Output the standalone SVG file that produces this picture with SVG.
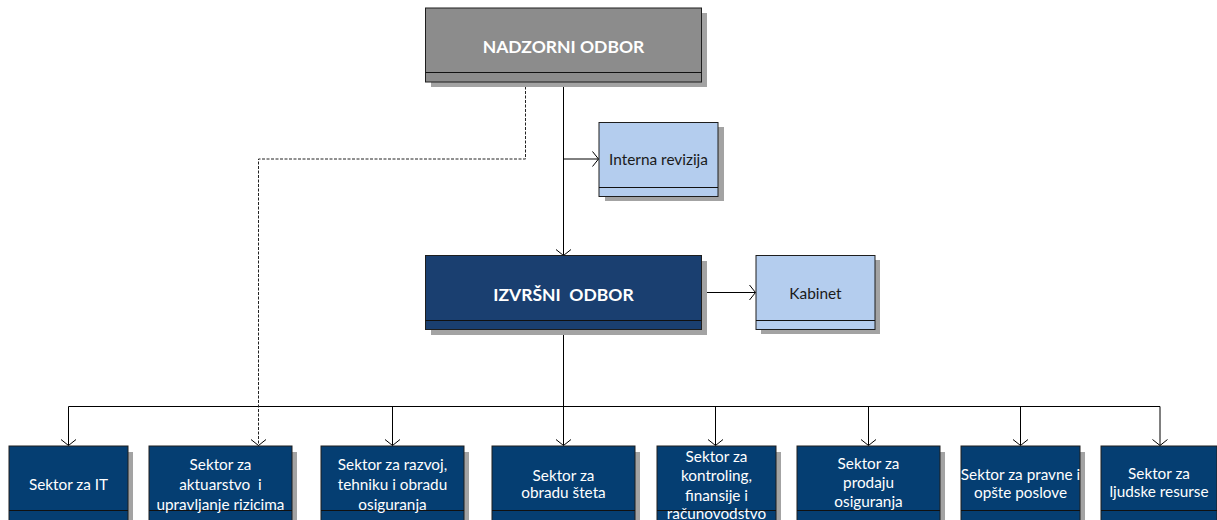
<svg xmlns="http://www.w3.org/2000/svg" width="1217" height="520" viewBox="0 0 1217 520">
<style>
.shadow{fill:#a3a3a3}
.box{stroke:#1e1e1e;stroke-width:1}
.gray{fill:#8c8c8c}
.light{fill:#b4cdee}
.exec{fill:#1a3f70}
.sec{fill:#053e72}
.sep{stroke:#111;stroke-width:1.2;fill:none}
.t{font-family:Lato,"Liberation Sans",sans-serif;text-anchor:middle}
.tw{fill:#ffffff;font-size:15.3px}
.tb{fill:#ffffff;font-size:17.5px;font-weight:bold}
.td{fill:#1a1a1a;font-size:15.4px}
.ln{stroke:#000;stroke-width:1;fill:none}
.dash{stroke:#222;stroke-width:1;fill:none;stroke-dasharray:3 1.5}
</style>
<defs>
<marker id="arr" markerUnits="userSpaceOnUse" markerWidth="16" markerHeight="18" viewBox="-8 -9 16 18" refX="0" refY="0" orient="auto">
<path d="M-6,-7.5 L0,0 L-6,7.5" fill="none" stroke="#000" stroke-width="1"/>
</marker>
</defs>
<rect width="1217" height="520" fill="#ffffff"/>

<g id="connectors">
<path class="ln" d="M563.5,82 V159 H598.5" marker-end="url(#arr)"/>
<path class="ln" d="M563.5,159 V255.5" marker-end="url(#arr)"/>
<path class="ln" d="M702,292.5 H755.5" marker-end="url(#arr)"/>
<path class="ln" d="M563.5,330 V406.5"/>
<path class="ln" d="M68.5,406.5 H1160"/>
<path class="ln" d="M68.5,406.5 V445.5" marker-end="url(#arr)"/>
<path class="ln" d="M392.5,406.5 V445.5" marker-end="url(#arr)"/>
<path class="ln" d="M563.5,406.5 V445.5" marker-end="url(#arr)"/>
<path class="ln" d="M715.5,406.5 V445.5" marker-end="url(#arr)"/>
<path class="ln" d="M868.5,406.5 V445.5" marker-end="url(#arr)"/>
<path class="ln" d="M1020.5,406.5 V445.5" marker-end="url(#arr)"/>
<path class="ln" d="M1160,406.5 V445.5" marker-end="url(#arr)"/>
<path class="dash" d="M525.5,82 V159 H258.5 V445.5" marker-end="url(#arr)"/>
</g>

<g id="nadzorni-odbor">
<rect class="shadow" x="431" y="13" width="276" height="74"/>
<rect class="box gray" x="425.5" y="8" width="276" height="74"/>
<line class="sep" x1="425.5" y1="72.5" x2="701.5" y2="72.5"/>
<text class="t tb" x="563.5" y="52.5">NADZORNI ODBOR</text>
</g>

<g id="interna-revizija">
<rect class="shadow" x="605" y="127" width="119" height="74"/>
<rect class="box light" x="599" y="122.5" width="119" height="74"/>
<line class="sep" x1="599" y1="187.5" x2="718" y2="187.5"/>
<text class="t td" x="658.5" y="165">Interna revizija</text>
</g>

<g id="izvrsni-odbor">
<rect class="shadow" x="431" y="261" width="276" height="74"/>
<rect class="box exec" x="425.5" y="255.5" width="276" height="74"/>
<line class="sep" x1="425.5" y1="320.5" x2="701.5" y2="320.5"/>
<text class="t tb" x="563.5" y="301" xml:space="preserve">IZVRŠNI  ODBOR</text>
</g>

<g id="kabinet">
<rect class="shadow" x="761" y="260" width="119" height="74"/>
<rect class="box light" x="756" y="255.5" width="119" height="74"/>
<line class="sep" x1="756" y1="320.5" x2="875" y2="320.5"/>
<text class="t td" x="815.5" y="298.5">Kabinet</text>
</g>

<g id="sektor-it">
<rect class="shadow" x="14" y="452" width="119" height="80"/>
<rect class="box sec" x="9" y="446" width="119" height="80"/>
<line class="sep" x1="9" y1="510.5" x2="128" y2="510.5"/>
<text class="t tw" x="68.5" y="489.5">Sektor za IT</text>
</g>

<g id="sektor-aktuarstvo">
<rect class="shadow" x="154" y="452" width="143" height="80"/>
<rect class="box sec" x="149" y="446" width="143" height="80"/>
<line class="sep" x1="149" y1="510.5" x2="292" y2="510.5"/>
<text class="t tw" x="220.5" y="469.5">Sektor za</text>
<text class="t tw" x="220.5" y="489.5" xml:space="preserve">aktuarstvo  i</text>
<text class="t tw" x="220.5" y="510">upravljanje rizicima</text>
</g>

<g id="sektor-razvoj">
<rect class="shadow" x="326" y="452" width="143" height="80"/>
<rect class="box sec" x="321" y="446" width="143" height="80"/>
<line class="sep" x1="321" y1="510.5" x2="464" y2="510.5"/>
<text class="t tw" x="392.5" y="469.5">Sektor za razvoj,</text>
<text class="t tw" x="392.5" y="489.5">tehniku i obradu</text>
<text class="t tw" x="392.5" y="510">osiguranja</text>
</g>

<g id="sektor-stete">
<rect class="shadow" x="497" y="452" width="143" height="80"/>
<rect class="box sec" x="492" y="446" width="143" height="80"/>
<line class="sep" x1="492" y1="510.5" x2="635" y2="510.5"/>
<text class="t tw" x="563.5" y="481">Sektor za</text>
<text class="t tw" x="563.5" y="498">obradu šteta</text>
</g>

<g id="sektor-kontroling">
<rect class="shadow" x="662" y="452" width="119" height="80"/>
<rect class="box sec" x="657" y="446" width="119" height="80"/>
<line class="sep" x1="657" y1="510.5" x2="776" y2="510.5"/>
<text class="t tw" x="716.5" y="461.5">Sektor za</text>
<text class="t tw" x="716.5" y="481">kontroling,</text>
<text class="t tw" x="716.5" y="500.5">finansije i</text>
<text class="t tw" x="716.5" y="518.5">računovodstvo</text>
</g>

<g id="sektor-prodaja">
<rect class="shadow" x="802" y="452" width="143" height="80"/>
<rect class="box sec" x="797" y="446" width="143" height="80"/>
<line class="sep" x1="797" y1="510.5" x2="940" y2="510.5"/>
<text class="t tw" x="868.5" y="468.5">Sektor za</text>
<text class="t tw" x="868.5" y="487.5">prodaju</text>
<text class="t tw" x="868.5" y="506.5">osiguranja</text>
</g>

<g id="sektor-pravni">
<rect class="shadow" x="966" y="452" width="119" height="80"/>
<rect class="box sec" x="961" y="446" width="119" height="80"/>
<line class="sep" x1="961" y1="510.5" x2="1080" y2="510.5"/>
<text class="t tw" x="1020.5" y="480">Sektor za pravne i</text>
<text class="t tw" x="1020.5" y="497.5">opšte poslove</text>
</g>

<g id="sektor-ljudski">
<rect class="shadow" x="1106" y="452" width="116" height="80"/>
<rect class="box sec" x="1101" y="446" width="116" height="80"/>
<line class="sep" x1="1101" y1="510.5" x2="1217" y2="510.5"/>
<text class="t tw" x="1159" y="479">Sektor za</text>
<text class="t tw" x="1159" y="497">ljudske resurse</text>
</g>
</svg>
